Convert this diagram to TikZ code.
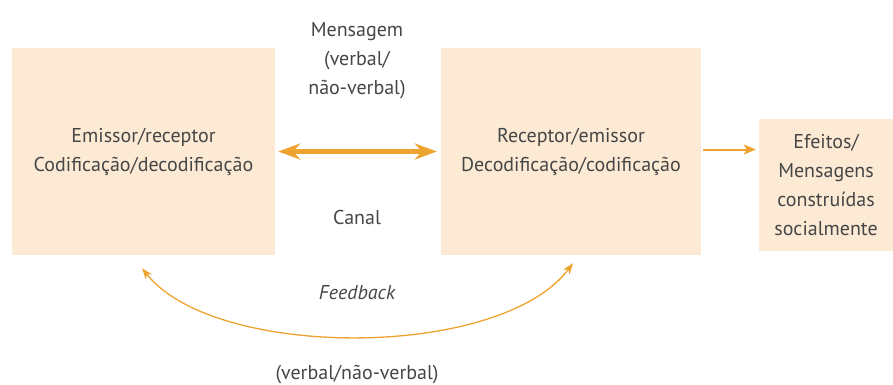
\documentclass[tikz,border=0pt]{standalone}
\usepackage{fontspec}
\setmainfont{PT Sans}
\usepackage{tikz}
\usetikzlibrary{arrows.meta}
\usetikzlibrary{positioning}

\definecolor{boxfill}{RGB}{252,234,212}
\definecolor{arroworange}{RGB}{238,163,48}
\definecolor{textgray}{RGB}{70,70,70}

\begin{document}
\begin{tikzpicture}[x=1pt, y=-1pt,
  every node/.style={text=textgray, font=\fontsize{20}{29}\selectfont, align=center, inner sep=0pt},
  stagebox/.style={fill=boxfill, draw=none},
  channel/.style={line width=4.5pt, arroworange, {Stealth[length=22pt,width=16pt,inset=7pt]}-{Stealth[length=22pt,width=16pt,inset=7pt]}},
  effect/.style={line width=2pt, arroworange, -{Stealth[length=12pt,width=10pt,inset=3pt]}},
  feedback/.style={line width=1.3pt, arroworange, {Stealth[length=11pt,width=8pt,inset=3pt]}-{Stealth[length=11pt,width=8pt,inset=3pt]}}]
\useasboundingbox (0,0) rectangle (893,385);

\node[stagebox, minimum width=263pt, minimum height=207pt] (Emissor) at (143.5,151.5) {Emissor/receptor\\Codificação/decodificação};
\node[stagebox, minimum width=260pt, minimum height=207pt] (Receptor) at (571,151.5) {Receptor/emissor\\Decodificação/codificação};
\node[stagebox, minimum width=134pt, minimum height=132pt] (Efeitos) at (826,185) {Efeitos/\\Mensagens\\construídas\\socialmente};

\node (Mensagem) at (357,61) {Mensagem\\(verbal/\\não-verbal)};
\node (Canal) at (357,217) {Canal};
\node (Feedback) at (357,293) {\itshape Feedback};
\node (Verbal) at (357,375) {(verbal/não-verbal)};

\draw[channel, shorten <=3pt, shorten >=4pt] (Emissor) -- (Receptor);
\draw[effect, shorten <=2pt, shorten >=3pt] ([yshift=2pt]Receptor.east) -- ([yshift=2pt]Receptor.east -| Efeitos.west);
\draw[feedback] ([xshift=2pt, yshift=-8pt]Receptor.south) .. controls (500,360) and (215,360) .. ([xshift=-1.5pt, yshift=-13pt]Emissor.south);
\end{tikzpicture}
\end{document}
